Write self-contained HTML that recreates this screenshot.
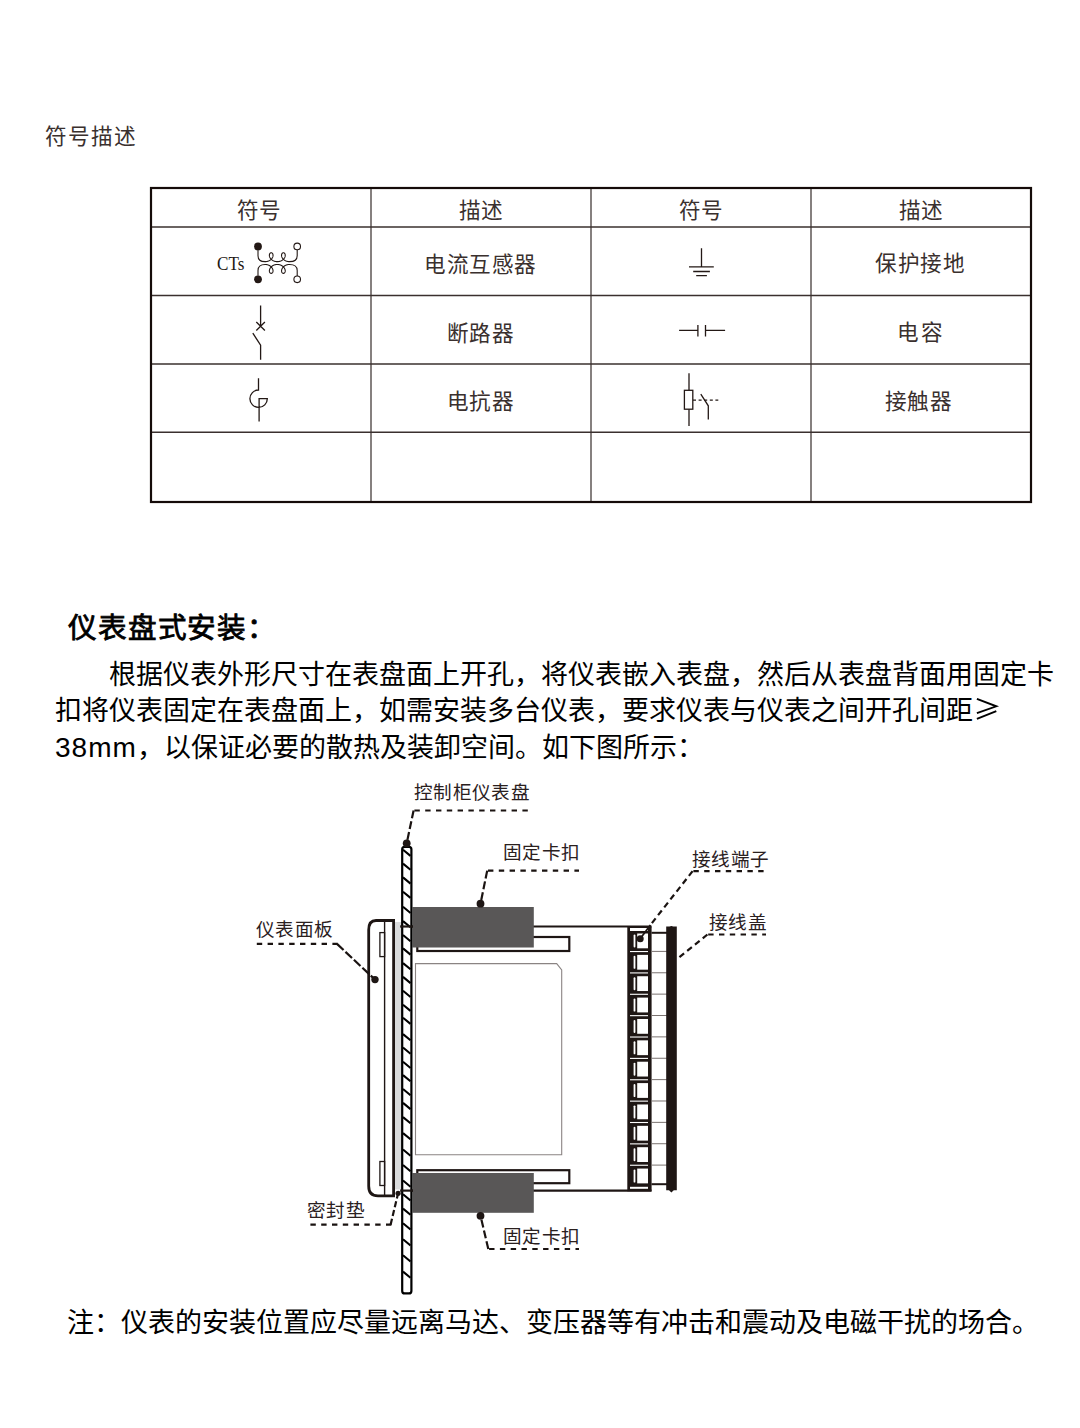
<!DOCTYPE html>
<html lang="zh-CN"><head><meta charset="utf-8">
<style>
html,body{margin:0;padding:0;background:#fff;}
body{width:1080px;height:1428px;position:relative;overflow:hidden;font-family:"Liberation Sans",sans-serif;}
.t{position:absolute;white-space:nowrap;line-height:1;}
.tb{font-size:21.6px;letter-spacing:0.6px;color:#3a302e;}
.body{font-size:27px;color:#000;}
.lab{font-size:18.6px;letter-spacing:0.35px;color:#2a201e;}
svg{position:absolute;left:0;top:0;}
</style></head><body>
<svg width="1080" height="1428" viewBox="0 0 1080 1428">
<line x1="371" y1="188" x2="371" y2="502" stroke="#5e5654" stroke-width="1.5"/>
<line x1="591" y1="188" x2="591" y2="502" stroke="#5e5654" stroke-width="1.5"/>
<line x1="811" y1="188" x2="811" y2="502" stroke="#5e5654" stroke-width="1.5"/>
<line x1="151" y1="227" x2="1031" y2="227" stroke="#3a302e" stroke-width="1.4"/>
<line x1="151" y1="295.5" x2="1031" y2="295.5" stroke="#3a302e" stroke-width="1.4"/>
<line x1="151" y1="364" x2="1031" y2="364" stroke="#3a302e" stroke-width="1.4"/>
<line x1="151" y1="432.3" x2="1031" y2="432.3" stroke="#3a302e" stroke-width="1.4"/>
<rect x="151" y="188" width="880" height="314" fill="none" stroke="#150b09" stroke-width="2.2"/>
<path d="M258,249.90 V255.65 Q258,261.65 265.11,261.65 M265.11,261.65 L265.44,261.64 L265.77,261.63 L266.11,261.60 L266.44,261.55 L266.76,261.50 L267.09,261.43 L267.41,261.35 L267.73,261.27 L268.04,261.16 L268.35,261.05 L268.65,260.93 L268.94,260.80 L269.23,260.66 L269.51,260.51 L269.78,260.35 L270.04,260.18 L270.29,260.00 L270.53,259.82 L270.77,259.62 L270.99,259.43 L271.20,259.22 L271.41,259.01 L271.60,258.79 L271.78,258.58 L271.94,258.35 L272.10,258.13 L272.24,257.90 L272.38,257.67 L272.49,257.43 L272.60,257.20 L272.70,256.97 L272.78,256.73 L272.85,256.50 L272.91,256.27 L272.96,256.05 L272.99,255.82 L273.02,255.61 L273.03,255.39 L273.03,255.18 L273.02,254.97 L273.00,254.78 L272.97,254.58 L272.93,254.40 L272.88,254.22 L272.82,254.05 L272.76,253.89 L272.68,253.74 L272.60,253.60 L272.51,253.47 L272.41,253.35 L272.31,253.24 L272.20,253.13 L272.08,253.05 L271.97,252.97 L271.84,252.90 L271.72,252.85 L271.59,252.80 L271.46,252.77 L271.33,252.76 L271.20,252.75 L271.07,252.76 L270.94,252.77 L270.81,252.80 L270.68,252.85 L270.56,252.90 L270.43,252.97 L270.32,253.05 L270.20,253.13 L270.09,253.24 L269.99,253.35 L269.89,253.47 L269.80,253.60 L269.72,253.74 L269.64,253.89 L269.58,254.05 L269.52,254.22 L269.47,254.40 L269.43,254.58 L269.40,254.78 L269.38,254.97 L269.37,255.18 L269.37,255.39 L269.38,255.61 L269.41,255.82 L269.44,256.05 L269.49,256.27 L269.55,256.50 L269.62,256.73 L269.70,256.97 L269.80,257.20 L269.91,257.43 L270.02,257.67 L270.16,257.90 L270.30,258.13 L270.46,258.35 L270.62,258.58 L270.80,258.79 L270.99,259.01 L271.20,259.22 L271.41,259.43 L271.63,259.62 L271.87,259.82 L272.11,260.00 L272.36,260.18 L272.62,260.35 L272.89,260.51 L273.17,260.66 L273.46,260.80 L273.75,260.93 L274.05,261.05 L274.36,261.16 L274.67,261.27 L274.99,261.35 L275.31,261.43 L275.64,261.50 L275.96,261.55 L276.29,261.60 L276.63,261.63 L276.96,261.64 L277.29,261.65 L277.63,261.64 L277.96,261.63 L278.30,261.60 L278.63,261.55 L278.95,261.50 L279.28,261.43 L279.60,261.35 L279.92,261.27 L280.23,261.16 L280.54,261.05 L280.84,260.93 L281.13,260.80 L281.42,260.66 L281.69,260.51 L281.96,260.35 L282.23,260.18 L282.48,260.00 L282.72,259.82 L282.96,259.62 L283.18,259.43 L283.39,259.22 L283.59,259.01 L283.79,258.79 L283.96,258.58 L284.13,258.35 L284.29,258.13 L284.43,257.90 L284.56,257.67 L284.68,257.43 L284.79,257.20 L284.89,256.97 L284.97,256.73 L285.04,256.50 L285.10,256.27 L285.15,256.05 L285.18,255.82 L285.21,255.61 L285.22,255.39 L285.22,255.18 L285.21,254.97 L285.19,254.78 L285.16,254.58 L285.12,254.40 L285.07,254.22 L285.01,254.05 L284.94,253.89 L284.87,253.74 L284.79,253.60 L284.70,253.47 L284.60,253.35 L284.50,253.24 L284.39,253.13 L284.27,253.05 L284.16,252.97 L284.03,252.90 L283.91,252.85 L283.78,252.80 L283.65,252.77 L283.52,252.76 L283.39,252.75 L283.26,252.76 L283.13,252.77 L283.00,252.80 L282.87,252.85 L282.75,252.90 L282.62,252.97 L282.51,253.05 L282.39,253.13 L282.28,253.24 L282.18,253.35 L282.08,253.47 L281.99,253.60 L281.91,253.74 L281.83,253.89 L281.77,254.05 L281.71,254.22 L281.66,254.40 L281.62,254.58 L281.59,254.78 L281.57,254.97 L281.56,255.18 L281.56,255.39 L281.57,255.61 L281.60,255.82 L281.63,256.05 L281.68,256.27 L281.74,256.50 L281.81,256.73 L281.89,256.97 L281.99,257.20 L282.09,257.43 L282.21,257.67 L282.35,257.90 L282.49,258.13 L282.65,258.35 L282.81,258.58 L282.99,258.79 L283.18,259.01 L283.39,259.22 L283.60,259.43 L283.82,259.62 L284.06,259.82 L284.30,260.00 L284.55,260.18 L284.81,260.35 L285.08,260.51 L285.36,260.66 L285.65,260.80 L285.94,260.93 L286.24,261.05 L286.55,261.16 L286.86,261.27 L287.18,261.35 L287.50,261.43 L287.82,261.50 L288.15,261.55 L288.48,261.60 L288.82,261.63 L289.15,261.64 L289.48,261.65 M289.48,261.65 Q297.2,261.65 297.2,255.65 V249.70" fill="none" stroke="#231815" stroke-width="1.1"/>
<path d="M258,275.80 V270.45 Q258,264.45 265.11,264.45 M265.11,264.45 L265.44,264.46 L265.77,264.47 L266.11,264.50 L266.44,264.55 L266.76,264.60 L267.09,264.67 L267.41,264.75 L267.73,264.83 L268.04,264.94 L268.35,265.05 L268.65,265.17 L268.94,265.30 L269.23,265.44 L269.51,265.59 L269.78,265.75 L270.04,265.92 L270.29,266.10 L270.53,266.28 L270.77,266.48 L270.99,266.67 L271.20,266.88 L271.41,267.09 L271.60,267.31 L271.78,267.52 L271.94,267.75 L272.10,267.97 L272.24,268.20 L272.38,268.43 L272.49,268.67 L272.60,268.90 L272.70,269.13 L272.78,269.37 L272.85,269.60 L272.91,269.83 L272.96,270.05 L272.99,270.28 L273.02,270.49 L273.03,270.71 L273.03,270.92 L273.02,271.12 L273.00,271.32 L272.97,271.52 L272.93,271.70 L272.88,271.88 L272.82,272.05 L272.76,272.21 L272.68,272.36 L272.60,272.50 L272.51,272.63 L272.41,272.75 L272.31,272.86 L272.20,272.97 L272.08,273.05 L271.97,273.13 L271.84,273.20 L271.72,273.25 L271.59,273.30 L271.46,273.33 L271.33,273.34 L271.20,273.35 L271.07,273.34 L270.94,273.33 L270.81,273.30 L270.68,273.25 L270.56,273.20 L270.43,273.13 L270.32,273.05 L270.20,272.97 L270.09,272.86 L269.99,272.75 L269.89,272.63 L269.80,272.50 L269.72,272.36 L269.64,272.21 L269.58,272.05 L269.52,271.88 L269.47,271.70 L269.43,271.52 L269.40,271.32 L269.38,271.12 L269.37,270.92 L269.37,270.71 L269.38,270.49 L269.41,270.28 L269.44,270.05 L269.49,269.83 L269.55,269.60 L269.62,269.37 L269.70,269.13 L269.80,268.90 L269.91,268.67 L270.02,268.43 L270.16,268.20 L270.30,267.97 L270.46,267.75 L270.62,267.52 L270.80,267.31 L270.99,267.09 L271.20,266.88 L271.41,266.67 L271.63,266.48 L271.87,266.28 L272.11,266.10 L272.36,265.92 L272.62,265.75 L272.89,265.59 L273.17,265.44 L273.46,265.30 L273.75,265.17 L274.05,265.05 L274.36,264.94 L274.67,264.83 L274.99,264.75 L275.31,264.67 L275.64,264.60 L275.96,264.55 L276.29,264.50 L276.63,264.47 L276.96,264.46 L277.29,264.45 L277.63,264.46 L277.96,264.47 L278.30,264.50 L278.63,264.55 L278.95,264.60 L279.28,264.67 L279.60,264.75 L279.92,264.83 L280.23,264.94 L280.54,265.05 L280.84,265.17 L281.13,265.30 L281.42,265.44 L281.69,265.59 L281.96,265.75 L282.23,265.92 L282.48,266.10 L282.72,266.28 L282.96,266.48 L283.18,266.67 L283.39,266.88 L283.59,267.09 L283.79,267.31 L283.96,267.52 L284.13,267.75 L284.29,267.97 L284.43,268.20 L284.56,268.43 L284.68,268.67 L284.79,268.90 L284.89,269.13 L284.97,269.37 L285.04,269.60 L285.10,269.83 L285.15,270.05 L285.18,270.28 L285.21,270.49 L285.22,270.71 L285.22,270.92 L285.21,271.12 L285.19,271.32 L285.16,271.52 L285.12,271.70 L285.07,271.88 L285.01,272.05 L284.94,272.21 L284.87,272.36 L284.79,272.50 L284.70,272.63 L284.60,272.75 L284.50,272.86 L284.39,272.97 L284.27,273.05 L284.16,273.13 L284.03,273.20 L283.91,273.25 L283.78,273.30 L283.65,273.33 L283.52,273.34 L283.39,273.35 L283.26,273.34 L283.13,273.33 L283.00,273.30 L282.87,273.25 L282.75,273.20 L282.62,273.13 L282.51,273.05 L282.39,272.97 L282.28,272.86 L282.18,272.75 L282.08,272.63 L281.99,272.50 L281.91,272.36 L281.83,272.21 L281.77,272.05 L281.71,271.88 L281.66,271.70 L281.62,271.52 L281.59,271.32 L281.57,271.12 L281.56,270.92 L281.56,270.71 L281.57,270.49 L281.60,270.28 L281.63,270.05 L281.68,269.83 L281.74,269.60 L281.81,269.37 L281.89,269.13 L281.99,268.90 L282.09,268.67 L282.21,268.43 L282.35,268.20 L282.49,267.97 L282.65,267.75 L282.81,267.52 L282.99,267.31 L283.18,267.09 L283.39,266.88 L283.60,266.67 L283.82,266.48 L284.06,266.28 L284.30,266.10 L284.55,265.92 L284.81,265.75 L285.08,265.59 L285.36,265.44 L285.65,265.30 L285.94,265.17 L286.24,265.05 L286.55,264.94 L286.86,264.83 L287.18,264.75 L287.50,264.67 L287.82,264.60 L288.15,264.55 L288.48,264.50 L288.82,264.47 L289.15,264.46 L289.48,264.45 M289.48,264.45 Q297.2,264.45 297.2,270.45 V276.00" fill="none" stroke="#231815" stroke-width="1.1"/>
<circle cx="258" cy="246.4" r="3.9" fill="#231815"/>
<circle cx="258" cy="279.3" r="3.9" fill="#231815"/>
<circle cx="297.2" cy="246.4" r="3.3" fill="#fff" stroke="#231815" stroke-width="1.1"/>
<circle cx="297.2" cy="279.3" r="3.3" fill="#fff" stroke="#231815" stroke-width="1.1"/>
<path d="M701.5,248.3 V266.9 M689,266.9 H713.8 M693.2,271.5 H709.9 M696.2,275.7 H706.9" stroke="#231815" stroke-width="1.3" fill="none"/>
<path d="M260.6,305.6 V326.2 M256.3,322 L264.9,330.5 M256.3,330.5 L264.9,322 M252.8,333.1 L260.6,345.1 V359.7" stroke="#231815" stroke-width="1.3" fill="none"/>
<path d="M679.1,330.4 H697.9 M697.9,325 V336.4 M705.5,325 V336.4 M705.5,330.4 H725.1" stroke="#231815" stroke-width="1.3" fill="none"/>
<path d="M258.5,378.3 V390 A8.7,8.7 0 1,0 267.3,398.7 H259.1 V421.6" stroke="#231815" stroke-width="1.3" fill="none"/>
<path d="M689,373.3 V390.3 M689,409.2 V426.1 M700.8,394.2 L708.3,405.8 V419.4" stroke="#231815" stroke-width="1.3" fill="none"/>
<rect x="684.4" y="390.3" width="8.4" height="18.9" stroke="#231815" stroke-width="1.3" fill="none"/>
<path d="M693,400.1 H718.3" stroke="#231815" stroke-width="1.3" stroke-dasharray="3,2.6"/>
<rect x="394" y="922" width="8" height="267.5" fill="#d9dadb"/>
<path d="M393.6,920.5 H376 Q368.7,920.5 368.7,930 V1186 Q368.7,1195.9 378,1195.9 H393.6 Z" fill="none" stroke="#1e1614" stroke-width="2.8"/>
<line x1="384.6" y1="921" x2="384.6" y2="1195" stroke="#1e1614" stroke-width="1.4"/>
<rect x="379.9" y="932.6" width="4.7" height="24" fill="none" stroke="#1e1614" stroke-width="1.3"/>
<rect x="379.9" y="1161.5" width="4.7" height="24" fill="none" stroke="#1e1614" stroke-width="1.3"/>
<path d="M415.5,1154.7 V963.6 H556.7 L561.7,970 V1154.7 Z" fill="none" stroke="#8a8483" stroke-width="1.1"/>
<line x1="400.4" y1="926.5" x2="651.5" y2="926.5" stroke="#1e1614" stroke-width="2.2"/>
<line x1="400.4" y1="1190.6" x2="651.5" y2="1190.6" stroke="#1e1614" stroke-width="2.2"/>
<rect x="417.3" y="937" width="152" height="14" fill="none" stroke="#1e1614" stroke-width="2.2"/>
<rect x="417.3" y="1170.2" width="152" height="13" fill="none" stroke="#1e1614" stroke-width="2.2"/>
<rect x="412.5" y="907" width="121.3" height="40.5" fill="#595757"/>
<rect x="412.5" y="1173" width="121.3" height="39.8" fill="#595757"/>
<rect x="402.2" y="846.8" width="9.2" height="446.6" rx="2.5" fill="#fff" stroke="#000" stroke-width="2.2"/>
<path d="M403,849.7 L410.5,855.9 M403,863.6 L410.5,869.8 M403,877.4 L410.5,883.6 M403,891.7 L410.5,897.9 M403,906.8 L410.5,913.0 M403,921.1 L410.5,927.3 M403,935.0 L410.5,941.2 M403,948.4 L410.5,954.6 M403,963.1 L410.5,969.3 M403,976.9 L410.5,983.1 M403,990.8 L410.5,997.0 M403,1004.7 L410.5,1010.9 M403,1017.7 L410.5,1023.9 M403,1034.1 L410.5,1040.3 M403,1047.5 L410.5,1053.7 M403,1061.8 L410.5,1068.0 M403,1075.1 L410.5,1081.3 M403,1089.0 L410.5,1095.2 M403,1102.9 L410.5,1109.1 M403,1117.1 L410.5,1123.3 M403,1133.1 L410.5,1139.3 M403,1149.5 L410.5,1155.7 M403,1165.0 L410.5,1171.2 M403,1180.5 L410.5,1186.7 M403,1194.3 L410.5,1200.5 M403,1208.6 L410.5,1214.8 M403,1223.3 L410.5,1229.5 M403,1239.3 L410.5,1245.5 M403,1255.3 L410.5,1261.5 M403,1271.6 L410.5,1277.8" stroke="#000" stroke-width="2.1" fill="none"/>
<line x1="400.4" y1="926.5" x2="413" y2="926.5" stroke="#1e1614" stroke-width="2.2"/>
<line x1="400.4" y1="1190.6" x2="413" y2="1190.6" stroke="#1e1614" stroke-width="2.2"/>
<rect x="627.3" y="926.5" width="24.3" height="264.8" fill="#1e1614"/>
<rect x="630" y="928" width="18" height="3" fill="#fff"/>
<rect x="630" y="1186.8" width="18" height="2" fill="#fff"/>
<rect x="637.2" y="933.50" width="10.8" height="14.8" fill="#fff"/>
<rect x="633.6" y="934.50" width="1.8" height="13" rx="0.9" fill="#fff"/>
<rect x="630" y="951.00" width="18" height="1.1" fill="#fff"/>
<rect x="637.2" y="954.87" width="10.8" height="14.8" fill="#fff"/>
<rect x="633.6" y="955.87" width="1.8" height="13" rx="0.9" fill="#fff"/>
<rect x="630" y="972.37" width="18" height="1.1" fill="#fff"/>
<rect x="637.2" y="976.24" width="10.8" height="14.8" fill="#fff"/>
<rect x="633.6" y="977.24" width="1.8" height="13" rx="0.9" fill="#fff"/>
<rect x="630" y="993.74" width="18" height="1.1" fill="#fff"/>
<rect x="637.2" y="997.61" width="10.8" height="14.8" fill="#fff"/>
<rect x="633.6" y="998.61" width="1.8" height="13" rx="0.9" fill="#fff"/>
<rect x="630" y="1015.11" width="18" height="1.1" fill="#fff"/>
<rect x="637.2" y="1018.98" width="10.8" height="14.8" fill="#fff"/>
<rect x="633.6" y="1019.98" width="1.8" height="13" rx="0.9" fill="#fff"/>
<rect x="630" y="1036.48" width="18" height="1.1" fill="#fff"/>
<rect x="637.2" y="1040.35" width="10.8" height="14.8" fill="#fff"/>
<rect x="633.6" y="1041.35" width="1.8" height="13" rx="0.9" fill="#fff"/>
<rect x="630" y="1057.85" width="18" height="1.1" fill="#fff"/>
<rect x="637.2" y="1061.72" width="10.8" height="14.8" fill="#fff"/>
<rect x="633.6" y="1062.72" width="1.8" height="13" rx="0.9" fill="#fff"/>
<rect x="630" y="1079.22" width="18" height="1.1" fill="#fff"/>
<rect x="637.2" y="1083.09" width="10.8" height="14.8" fill="#fff"/>
<rect x="633.6" y="1084.09" width="1.8" height="13" rx="0.9" fill="#fff"/>
<rect x="630" y="1100.59" width="18" height="1.1" fill="#fff"/>
<rect x="637.2" y="1104.46" width="10.8" height="14.8" fill="#fff"/>
<rect x="633.6" y="1105.46" width="1.8" height="13" rx="0.9" fill="#fff"/>
<rect x="630" y="1121.96" width="18" height="1.1" fill="#fff"/>
<rect x="637.2" y="1125.83" width="10.8" height="14.8" fill="#fff"/>
<rect x="633.6" y="1126.83" width="1.8" height="13" rx="0.9" fill="#fff"/>
<rect x="630" y="1143.33" width="18" height="1.1" fill="#fff"/>
<rect x="637.2" y="1147.20" width="10.8" height="14.8" fill="#fff"/>
<rect x="633.6" y="1148.20" width="1.8" height="13" rx="0.9" fill="#fff"/>
<rect x="630" y="1164.70" width="18" height="1.1" fill="#fff"/>
<rect x="637.2" y="1168.57" width="10.8" height="14.8" fill="#fff"/>
<rect x="633.6" y="1169.57" width="1.8" height="13" rx="0.9" fill="#fff"/>
<line x1="651.5" y1="932.8" x2="667" y2="932.8" stroke="#1e1614" stroke-width="2"/>
<line x1="651.5" y1="1184.2" x2="667" y2="1184.2" stroke="#1e1614" stroke-width="2"/>
<line x1="651.5" y1="951.40" x2="667" y2="951.40" stroke="#7a7270" stroke-width="1"/>
<line x1="651.5" y1="972.77" x2="667" y2="972.77" stroke="#7a7270" stroke-width="1"/>
<line x1="651.5" y1="994.14" x2="667" y2="994.14" stroke="#7a7270" stroke-width="1"/>
<line x1="651.5" y1="1015.51" x2="667" y2="1015.51" stroke="#7a7270" stroke-width="1"/>
<line x1="651.5" y1="1036.88" x2="667" y2="1036.88" stroke="#7a7270" stroke-width="1"/>
<line x1="651.5" y1="1058.25" x2="667" y2="1058.25" stroke="#7a7270" stroke-width="1"/>
<line x1="651.5" y1="1079.62" x2="667" y2="1079.62" stroke="#7a7270" stroke-width="1"/>
<line x1="651.5" y1="1100.99" x2="667" y2="1100.99" stroke="#7a7270" stroke-width="1"/>
<line x1="651.5" y1="1122.36" x2="667" y2="1122.36" stroke="#7a7270" stroke-width="1"/>
<line x1="651.5" y1="1143.73" x2="667" y2="1143.73" stroke="#7a7270" stroke-width="1"/>
<line x1="651.5" y1="1165.10" x2="667" y2="1165.10" stroke="#7a7270" stroke-width="1"/>
<path d="M666.2,926.5 H669.5 Q671.4,925.6 673.3,926.5 H676.8 V1190.2 H673.8 L671.4,1192.6 L669,1190.2 H666.2 Z" fill="#1e1614"/>
<path d="M413.6,810.5 L406.7,843.3" fill="none" stroke="#1a1311" stroke-width="2.2" stroke-dasharray="8,3"/>
<path d="M414.40000000000003,810.5 H530" fill="none" stroke="#1a1311" stroke-width="2.2" stroke-dasharray="5.4,5.4"/>
<circle cx="406.7" cy="843.3" r="3.9" fill="#1e1614"/>
<path d="M487.2,870.6 L480.5,903.7" fill="none" stroke="#1a1311" stroke-width="2.2" stroke-dasharray="8,3"/>
<path d="M488.0,870.6 H579" fill="none" stroke="#1a1311" stroke-width="2.2" stroke-dasharray="5.4,5.4"/>
<circle cx="480.5" cy="903.7" r="3.9" fill="#1e1614"/>
<path d="M488.3,1249 L480.5,1215.8" fill="none" stroke="#1a1311" stroke-width="2.2" stroke-dasharray="8,3"/>
<path d="M489.1,1249 H579" fill="none" stroke="#1a1311" stroke-width="2.2" stroke-dasharray="5.4,5.4"/>
<circle cx="480.5" cy="1215.8" r="3.9" fill="#1e1614"/>
<path d="M337,943.9 L375,979.6" fill="none" stroke="#1a1311" stroke-width="2.2" stroke-dasharray="9,2.6"/>
<path d="M337.8,943.9 H255.5" fill="none" stroke="#1a1311" stroke-width="2.2" stroke-dasharray="5.4,5.4"/>
<circle cx="375" cy="979.6" r="3.7" fill="#1e1614"/>
<path d="M390.6,1224.7 L398.1,1193.3" fill="none" stroke="#1a1311" stroke-width="2.2" stroke-dasharray="6,3"/>
<path d="M391.40000000000003,1224.7 H307.2" fill="none" stroke="#1a1311" stroke-width="2.2" stroke-dasharray="5.4,5.4"/>
<circle cx="398.1" cy="1193.3" r="2.6" fill="#1e1614"/>
<path d="M692.6,871.1 L650.4,925" fill="none" stroke="#1a1311" stroke-width="2.2" stroke-dasharray="6,4"/>
<path d="M693.4,871.1 H768" fill="none" stroke="#1a1311" stroke-width="2.2" stroke-dasharray="5.4,5.4"/>
<circle cx="650.4" cy="925" r="0.1" fill="#1e1614"/>
<path d="M650.4,925 L640.2,938.7" stroke="#1e1614" stroke-width="1.8"/>
<circle cx="640.2" cy="938.7" r="3.5" fill="#1e1614"/>
<path d="M707.4,934.5 L677.8,958.5" fill="none" stroke="#1a1311" stroke-width="2.2" stroke-dasharray="6,4"/>
<path d="M708.1999999999999,934.5 H766" fill="none" stroke="#1a1311" stroke-width="2.2" stroke-dasharray="5.4,5.4"/>
<circle cx="677.8" cy="958.5" r="0.1" fill="#1e1614"/>
<path d="M976.9,698.8 L996.3,706.3 L976.9,713.1 M976.9,718.9 L996.3,711.1" fill="none" stroke="#000" stroke-width="1.9"/>
</svg>
<div class="t tb" style="left:44.5px;top:125.5px;letter-spacing:1px;">符号描述</div>
<div class="t tb" style="left:236.5px;top:199.5px;">符号</div>
<div class="t tb" style="left:458.5px;top:199.5px;">描述</div>
<div class="t tb" style="left:678.5px;top:199.5px;">符号</div>
<div class="t tb" style="left:898.5px;top:199.5px;">描述</div>
<div class="t tb" style="left:424px;top:254px;">电流互感器</div>
<div class="t tb" style="left:875px;top:252.5px;">保护接地</div>
<div class="t tb" style="left:446.8px;top:323px;">断路器</div>
<div class="t tb" style="left:896.5px;top:321.5px;letter-spacing:2px;">电容</div>
<div class="t tb" style="left:446.8px;top:391px;">电抗器</div>
<div class="t tb" style="left:884.8px;top:391px;">接触器</div>
<div class="t" style="left:216.5px;top:255px;font-family:'Liberation Serif',serif;font-size:18px;transform:scaleX(0.95);transform-origin:0 0;color:#231815;">CTs</div>
<div class="t" style="left:68.3px;top:613.5px;font-size:28.6px;letter-spacing:0.8px;color:#000;-webkit-text-stroke:0.8px #000;">仪表盘式安装：</div>
<div class="t body" style="left:109px;top:662px;">根据仪表外形尺寸在表盘面上开孔，将仪表嵌入表盘，然后从表盘背面用固定卡</div>
<div class="t body" style="left:55px;top:698px;">扣将仪表固定在表盘面上，如需安装多台仪表，要求仪表与仪表之间开孔间距</div>
<div class="t body" style="left:55px;top:734px;"><span style="font-size:28px;letter-spacing:1px;">38mm</span>，以保证必要的散热及装卸空间。如下图所示：</div>
<div class="t lab" style="left:414px;top:784px;">控制柜仪表盘</div>
<div class="t lab" style="left:503px;top:844px;">固定卡扣</div>
<div class="t lab" style="left:692px;top:851px;">接线端子</div>
<div class="t lab" style="left:709px;top:914px;">接线盖</div>
<div class="t lab" style="left:256px;top:921px;">仪表面板</div>
<div class="t lab" style="left:307px;top:1202px;">密封垫</div>
<div class="t lab" style="left:503px;top:1228px;">固定卡扣</div>
<div class="t body" style="left:67px;top:1310px;">注：仪表的安装位置应尽量远离马达、变压器等有冲击和震动及电磁干扰的场合。</div>
</body></html>
